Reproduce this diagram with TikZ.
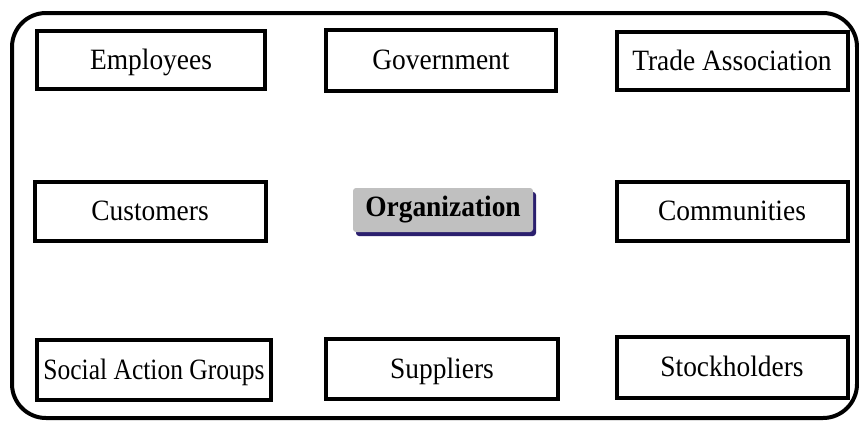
\documentclass[tikz,border=0pt]{standalone}
\usepackage{fontspec}
\setmainfont[FakeStretch=0.93]{Liberation Serif}
\usetikzlibrary{shadows}
\definecolor{shadowblue}{HTML}{2B1F6E}
\definecolor{orggrey}{HTML}{C0C0C0}
\tikzset{
  stake/.style={draw=black, line width=4pt, fill=white, minimum width=228pt, minimum height=58pt, inner sep=0pt,
    text height=20pt, text depth=1pt, font=\fontsize{29.5}{34}\selectfont},
  org/.style={fill=orggrey, rounded corners=3pt, minimum width=180pt, minimum height=44pt, inner sep=0pt, font=\fontsize{29.5}{34}\selectfont\bfseries,
    drop shadow={shadow xshift=3pt, shadow yshift=-4pt, fill=shadowblue, opacity=1}},
  frame/.style={draw=black, line width=4pt, rounded corners=34pt}
}
\begin{document}
\begin{tikzpicture}[x=1pt,y=-1pt]
\useasboundingbox (0,0) rectangle (859,421);
\fill[white] (0,0) rectangle (859,421);
\draw[frame] (12,13) rectangle (857,418);
\node[stake] (emp) at (151,60) {Employees};
\node[stake, minimum width=230pt, minimum height=61pt] (gov) at (441,60) {Government};
\node[stake, minimum width=231pt] (trade) at (732,61) {Trade Association};
\node[stake, minimum width=231pt, minimum height=59pt] (cust) at (150,211) {Customers};
\node[org] (org) at (443,210) {Organization};
\node[stake, minimum width=231pt, minimum height=59pt] (comm) at (732,211) {Communities};
\node[stake, minimum width=234pt, minimum height=60pt] (soc) at (154,370) {\scalebox{0.93}[1]{Social Action Groups}};
\node[stake, minimum width=232pt, minimum height=60pt] (supp) at (442,369) {Suppliers};
\node[stake, minimum width=231pt, minimum height=61pt] (stock) at (732,367) {Stockholders};
\end{tikzpicture}
\end{document}
